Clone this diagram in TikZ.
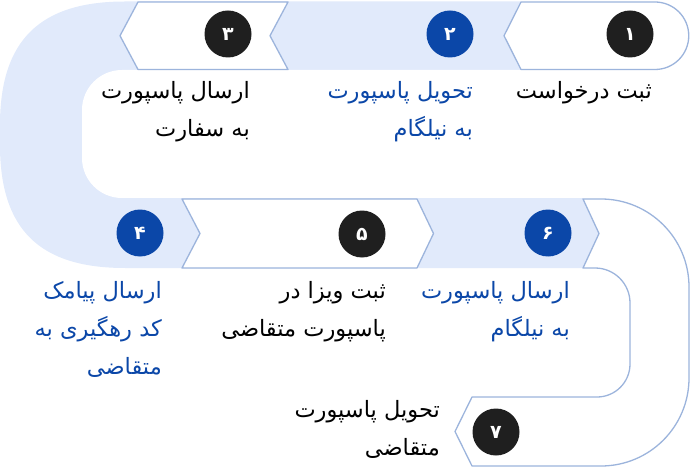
\documentclass[tikz,border=0pt]{standalone}
\usepackage{fontspec}
\TeXXeTstate=1
\newfontfamily\farsi[Script=Arabic]{DejaVu Sans}
\newcommand{\prs}[1]{\beginR#1\endR}
\definecolor{lb}{HTML}{E1EAFB}
\definecolor{edgec}{HTML}{9CB4DC}
\definecolor{dblue}{HTML}{0B47A8}
\definecolor{dark}{HTML}{1F1F1F}
\begin{document}
\begin{tikzpicture}[x=1pt,y=-1pt,
  stepedge/.style={draw=edgec, line width=1.3pt, fill=white, line join=round},
  num/.style={circle, minimum size=47pt, inner sep=0pt, text=white, font=\farsi\bfseries\fontsize{19}{19}\selectfont},
  bnum/.style={num, fill=dblue},
  knum/.style={num, fill=dark},
  lbl/.style={anchor=base east, align=right, inner sep=0pt, font=\farsi\fontsize{22.5}{38}\selectfont},
  ]
\useasboundingbox (0,0) rectangle (692,470);
% light blue snake band
\fill[lb] (521,1.5) -- (125,1.5) .. controls (40,1.5) and (0,40) .. (0,125)
  -- (0,145) .. controls (0,230) and (40,268) .. (125,268)
  -- (583,268) -- (599,233.5) -- (583,199) -- (583,70) -- (521,70) -- (504,35.75) -- cycle;
\fill[white, rounded corners=40pt] (82,70) rectangle (740,198);
% white step shapes
\draw[stepedge] (521,2) -- (655,2) arc[start angle=-90, end angle=90, radius=33.75]
  -- (521,69.5) -- (504,35.75) -- cycle;
\draw[stepedge] (138,2) -- (288,2) -- (270,35.75) -- (288,69.5) -- (138,69.5) -- (120,35.75) -- cycle;
\draw[stepedge] (182,199) -- (417,199) -- (433.5,233.5) -- (417,268) -- (182,268) -- (200,233.5) -- cycle;
\draw[stepedge] (583,199) -- (601,199) arc[start angle=-90, end angle=0, radius=88]
  -- (689,378) arc[start angle=0, end angle=90, radius=88]
  -- (472,466) -- (455,431.5) -- (472,397) -- (597,397)
  arc[start angle=90, end angle=0, radius=33]
  -- (630,303) arc[start angle=0, end angle=-90, radius=35]
  -- (583,268) -- (599,233.5) -- cycle;
% numbers
\node[knum] (c1) at (630,34) {۱};
\node[bnum] (c2) at (450,34) {۲};
\node[knum] (c3) at (228,34) {۳};
\node[bnum] (c4) at (140,233) {۴};
\node[knum] (c5) at (362,234) {۵};
\node[bnum] (c6) at (548,233) {۶};
\node[knum] (c7) at (496,432) {۷};
% labels (base anchor = baseline of the last line)
\node[lbl] (t1) at (652,99) {\prs{ثبت درخواست}};
\node[lbl, text=dblue] (t2) at (473,137) {\prs{تحویل پاسپورت}\\\prs{به نیلگام}};
\node[lbl] (t3) at (250,137) {\prs{ارسال پاسپورت}\\\prs{به سفارت}};
\node[lbl, text=dblue] (t4) at (162,374) {\prs{ارسال پیامک}\\\prs{کد رهگیری به}\\\prs{متقاضی}};
\node[lbl] (t5) at (386,336) {\prs{ثبت ویزا در}\\\prs{پاسپورت متقاضی}};
\node[lbl, text=dblue] (t6) at (570,336) {\prs{ارسال پاسپورت}\\\prs{به نیلگام}};
\node[lbl] (t7) at (440,455) {\prs{تحویل پاسپورت}\\\prs{متقاضی}};
\end{tikzpicture}
\end{document}
